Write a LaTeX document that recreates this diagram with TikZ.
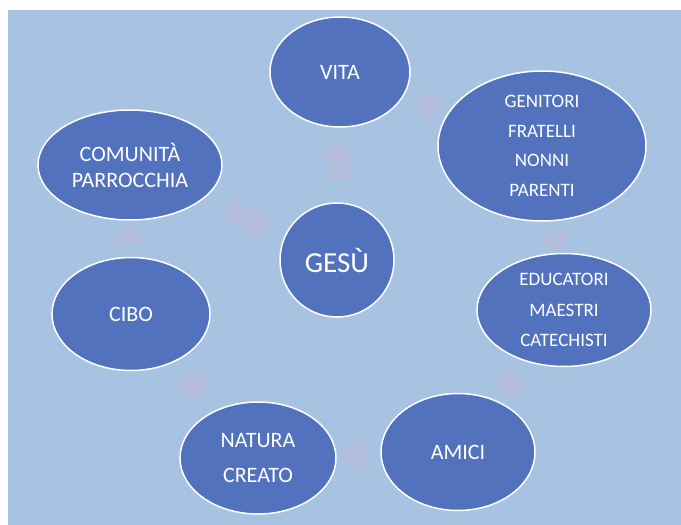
\documentclass[tikz,border=0pt]{standalone}
\usepackage{fontspec}
\usepackage{xcolor}
\usepackage{tikz}
\usetikzlibrary{
  positioning,
  shapes.geometric,
  shapes.arrows
}
\setmainfont{Carlito}
\definecolor{bgblue}{RGB}{168,195,226}
\definecolor{bubblefill}{RGB}{82,114,190}
\definecolor{flowcol}{RGB}{180,188,219}

\begin{document}
\begin{tikzpicture}[x=1pt, y=-1pt,
    bubble/.style={ellipse, draw=white, line width=1.5pt, fill=bubblefill, inner sep=0pt},
    words/.style={text=white, align=center, font=\fontsize{22}{26}\selectfont},
    listwords/.style={words, font=\fontsize{19}{29.5}\selectfont},
    bigwords/.style={words, font=\fontsize{29}{34}\selectfont},
    flow/.style={single arrow, fill=flowcol, inner xsep=0pt, inner ysep=11pt, single arrow head extend=7pt, sloped, allow upside down}]
\useasboundingbox (0,0) rectangle (681,525);
\fill[bgblue] (8,10) rectangle (681,525);

\node[bubble, minimum width=140pt, minimum height=110pt, label={[words]center:VITA}] (vita) at (340,72) {};
\node[bubble, minimum width=208pt, minimum height=150pt, label={[listwords]center:GENITORI\\FRATELLI\\NONNI\\PARENTI}] (genitori) at (542,146) {};
\node[bubble, minimum width=174pt, minimum height=113pt, label={[listwords, font=\fontsize{19}{30.5}\selectfont]center:EDUCATORI\\MAESTRI\\CATECHISTI}] (educatori) at (564,310) {};
\node[bubble, minimum width=154pt, minimum height=117pt, label={[words]center:AMICI}] (amici) at (458,452) {};
\node[bubble, minimum width=156pt, minimum height=112pt, label={[words, font=\fontsize{22}{35}\selectfont]center:NATURA\\CREATO}] (natura) at (258,458) {};
\node[bubble, minimum width=158pt, minimum height=113pt, label={[words]center:CIBO}] (cibo) at (131,314) {};
\node[bubble, minimum width=184pt, minimum height=110pt, label={[words]center:COMUNITÀ\\PARROCCHIA}] (comunita) at (130,165) {};
\node[bubble, minimum width=114pt, minimum height=114pt, label={[bigwords]center:GESÙ}] (gesu) at (337,260) {};

\path (gesu) -- node[flow, minimum height=39pt] {} (vita);
\path (vita) -- node[flow, minimum height=27pt, inner ysep=10pt] {} (genitori);
\path (genitori) -- node[flow, minimum height=20pt, inner ysep=10pt] {} (educatori);
\path (educatori) -- node[flow, minimum height=27pt] {} (amici);
\path (amici) -- node[flow, minimum height=25pt] {} (natura);
\path (natura) -- node[flow, minimum height=30pt] {} (cibo);
\path (cibo) -- node[flow, minimum height=20pt, inner ysep=10pt] {} (comunita);
\path (comunita) -- node[flow, minimum height=45pt] {} (gesu);
\end{tikzpicture}
\end{document}
